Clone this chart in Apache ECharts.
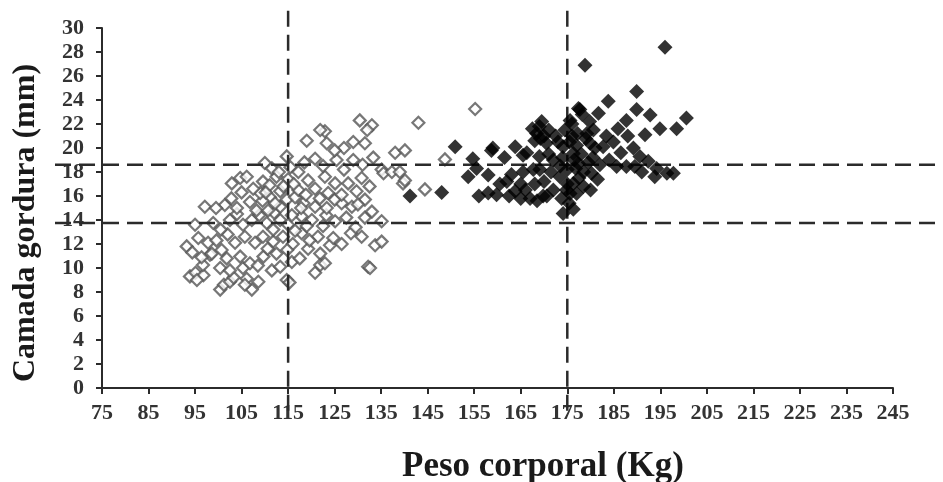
<!DOCTYPE html>
<html><head><meta charset="utf-8">
<script src="https://cdn.jsdelivr.net/npm/echarts@6/dist/echarts.min.js"></script>
<style>html,body{margin:0;padding:0;background:#fff}#c{width:943px;height:482px}</style>
</head><body><div id="c"></div>
<script>
const xTicks = [75,85,95,105,115,125,135,145,155,165,175,185,195,205,215,225,235,245];
const yTicks = [0,2,4,6,8,10,12,14,16,18,20,22,24,26,28,30];
const xTitle = 'Peso corporal (Kg)';
const yTitle = 'Camada gordura (mm)';
const vCuts = [115, 175];
const hCuts = [18.6, 13.75];

const openPts = [
[93.9,9.3],[95.1,9.6],[96.8,9.4],[95.4,9.0],[100.4,8.2],[101.2,8.6],[102.5,8.85],[103.3,9.2],[106.1,9.1],[107.2,8.2],[108.6,8.85],[114.7,9.0],[115.3,8.8],[120.8,9.6],[105.7,8.6],
[96.7,10.25],[98.2,11.1],[96.4,10.9],[98.6,11.2],[100.4,10.0],[101.8,10.8],[102.5,9.8],[104.7,10.95],[105.3,10.0],[106.8,10.4],[109.7,10.95],[111.5,9.8],[112.5,11.2],[113.3,10.1],[115.8,10.5],[119.3,11.6],[121.9,11.2],[121.9,10.25],[122.9,10.4],[124.0,11.9],[132.2,10.1],[132.6,10.0],[117.5,10.8],[108.5,10.2],
[93.2,11.8],[94.4,11.3],[95.7,12.5],[97.8,12.1],[99.6,12.3],[100.7,11.5],[103.6,12.1],[105.7,12.6],[107.9,12.1],[109.6,12.6],[111.8,12.2],[113.9,12.6],[117.9,12.9],[121.4,12.6],[124.7,12.5],[126.5,12.0],[130.8,12.6],[133.7,11.9],[135.1,12.2],[116.0,12.0],[119.6,12.3],[128.5,12.9],[102.0,12.8],[110.6,11.6],[114.8,11.5],
[95.0,13.6],[98.9,13.75],[102.5,14.0],[105.3,13.6],[107.2,14.0],[110.4,13.75],[113.3,14.0],[115.0,13.6],[117.9,14.3],[120.1,14.0],[122.5,13.5],[125.1,13.9],[127.5,14.2],[129.5,13.4],[135.1,13.9],[100.5,13.2],[104.0,14.5],[108.8,14.4],[111.8,13.2],[116.5,13.1],[119.0,13.5],[123.2,14.4],[112.0,14.6],[131.5,14.2],
[97.1,15.1],[101.4,15.25],[104.0,15.0],[106.8,15.5],[108.2,14.8],[110.7,14.8],[113.3,15.1],[114.7,15.7],[118.3,15.4],[120.8,15.1],[123.3,15.0],[126.5,15.4],[128.7,15.1],[131.5,15.7],[133.0,14.7],[111.1,15.9],[116.5,15.9],[121.8,15.8],[125.0,15.7],[102.8,15.8],[109.5,15.6],[130.0,15.3],[99.5,15.0],
[102.9,17.05],[104.7,17.5],[106.1,17.6],[109.0,16.25],[109.6,17.2],[112.5,17.6],[113.3,16.4],[115.0,17.4],[117.2,16.5],[119.3,17.3],[120.8,16.6],[122.9,17.6],[123.6,16.25],[125.1,17.05],[126.5,16.1],[127.9,17.05],[129.7,16.4],[130.8,17.5],[139.7,17.05],[140.1,17.3],[144.4,16.55],[107.5,16.6],[111.0,16.9],[105.0,16.3],[116.2,17.0],[132.5,16.8],
[110.0,18.75],[114.7,19.3],[115.5,18.4],[117.2,18.0],[120.8,19.1],[125.4,19.0],[129.0,19.0],[133.3,19.2],[135.1,18.2],[135.5,17.9],[137.3,18.0],[139.0,18.0],[138.0,19.6],[140.1,19.8],[148.7,19.05],[111.5,18.3],[113.0,18.0],[122.5,18.5],[127.0,18.2],[131.0,18.6],[118.5,18.8],
[119.0,20.6],[122.9,21.4],[121.9,21.5],[123.3,20.4],[129.0,20.5],[131.5,20.4],[130.4,22.3],[133.0,21.9],[132.0,21.5],[143.0,22.1],[155.2,23.25],[127.0,20.0],[125.0,19.8],
[112.2,15.4],[114.0,16.8],[117.8,15.0],[115.8,14.4],[118.8,16.1],[110.2,16.3]
];

const filledPts = [
[141.2,16.0],[148.0,16.3],[150.9,20.1],[154.7,19.1],[153.7,17.6],[158.0,17.75],[158.7,19.8],[159.0,20.0],[162.0,17.2],[158.0,16.25],[159.8,16.1],[163.8,16.4],[163.8,20.1],[165.5,19.4],[166.3,19.6],[167.0,15.8],[169.8,16.0],[165.5,18.0],[167.7,18.2],[169.1,18.2],[170.6,16.0],[174.1,14.55],[175.4,15.4],[176.3,14.9],[175.6,16.2],[174.1,20.1],[176.3,19.55],[179.2,21.2],[175.6,22.3],[177.4,23.3],[177.4,18.7],[180.2,17.9],[176.3,17.05],[173.4,17.6],[172.0,19.0],
[168.4,21.2],[169.0,21.8],[170.0,21.0],[168.0,20.6],[169.5,22.2],[170.5,20.4],[167.5,21.6],[171.0,21.5],[169.2,20.8],
[173.5,18.5],[174.0,19.2],[175.0,18.2],[175.5,20.5],[176.0,21.0],[176.5,19.0],[177.0,20.2],[177.5,17.5],[178.0,19.5],[178.5,18.0],[179.0,20.8],[179.5,18.8],[174.5,21.5],[176.0,22.0],[173.0,20.5],[175.0,17.0],[177.0,16.2],[178.5,16.8],[180.5,19.2],[181.0,20.0],[182.0,18.6],[181.5,17.4],[176.8,18.3],[174.8,16.5],[173.8,15.8],[179.8,22.2],[178.2,22.8],[177.2,21.2],[180.0,16.5],
[196.0,28.4],[178.8,26.9],[189.9,24.7],[183.8,23.9],[181.7,22.9],[177.7,23.2],[189.9,23.2],[192.8,22.75],[200.6,22.5],[198.5,21.6],[194.9,21.6],[191.7,21.1],[187.7,22.3],[185.9,21.6],[183.4,21.0],[180.6,21.5],[179.9,20.4],[182.7,20.1],[184.9,20.5],[189.2,20.0],[190.6,19.3],[192.4,18.9],[194.2,18.3],[196.4,17.9],[197.8,17.9],[185.6,18.45],[187.7,18.45],[189.5,18.45],[193.8,17.6],[186.5,19.6],[188.0,21.0],[184.0,19.0],[191.0,18.0],
[160.5,17.0],[162.5,16.0],[165.0,17.0],[166.0,16.5],[168.0,17.0],[170.0,17.2],[171.5,18.0],[171.0,19.5],[172.5,21.0],[172.0,16.5],[169.0,19.3],[165.0,15.8],[168.5,15.6],[163.0,17.8],[156.0,16.0],[155.5,18.3],[161.5,19.2]
];

// dashed cut lines, in data units (extend beyond plot like the reference)
const cutLines = [];
vCuts.forEach(v => cutLines.push([v, -1.9, v, 31.5]));
hCuts.forEach(h => cutLines.push([64.9, h, 255.2, h]));

const chart = echarts.init(document.getElementById('c'), null, {renderer:'canvas'});
const serif = "'Liberation Serif','Times New Roman',serif";
const axisCol = '#2b2b2b';
chart.setOption({
  animation: false,
  backgroundColor: '#fff',
  grid: {left: 102, right: 50, top: 28, bottom: 94, containLabel: false},
  title: {text: xTitle, left: 397, top: 444,
    textStyle: {fontFamily: serif, fontWeight: 'bold', fontSize: 35, color: '#1a1a1a'}},
  xAxis: {
    type: 'value', min: 75, max: 245,
    axisLine: {show: true, lineStyle: {color: axisCol, width: 2}},
    axisTick: {show: true, length: 6, lineStyle: {color: axisCol, width: 2}, customValues: xTicks},
    axisLabel: {customValues: xTicks, margin: 14, fontFamily: serif, fontWeight: 'bold', fontSize: 22, color: '#333'},
    splitLine: {show: false}
  },
  yAxis: {
    type: 'value', min: 0, max: 30, interval: 2,
    name: yTitle, nameLocation: 'middle', nameRotate: 90, nameGap: 60,
    nameTextStyle: {fontFamily: serif, fontWeight: 'bold', fontSize: 32, color: '#1a1a1a', padding: [0,30,0,0]},
    axisLine: {show: true, lineStyle: {color: axisCol, width: 2}},
    axisTick: {show: true, length: 6, lineStyle: {color: axisCol, width: 2}},
    axisLabel: {margin: 18, fontFamily: serif, fontWeight: 'bold', fontSize: 22, color: '#333',
      customValues: yTicks},
    splitLine: {show: false}
  },
  series: [
    {type: 'scatter', data: openPts, symbol: 'diamond', symbolSize: 12, z: 2,
     itemStyle: {color: '#fff', borderColor: '#555', borderWidth: 2.2}},
    {type: 'custom', data: cutLines, clip: false, z: 3, silent: true,
     renderItem: function (params, api) {
       const p1 = api.coord([api.value(0), api.value(1)]);
       const p2 = api.coord([api.value(2), api.value(3)]);
       return {type: 'line', shape: {x1: p1[0], y1: p1[1], x2: p2[0], y2: p2[1]},
         style: {stroke: '#2b2b2b', lineWidth: 2.5, lineDash: [16, 8]}};
     },
     encode: {x: [0, 2], y: [1, 3]}},
    {type: 'scatter', data: filledPts, symbol: 'diamond', symbolSize: 15, z: 4,
     itemStyle: {color: '#000', borderColor: '#000', borderWidth: 0}}
  ]
});
</script></body></html>
